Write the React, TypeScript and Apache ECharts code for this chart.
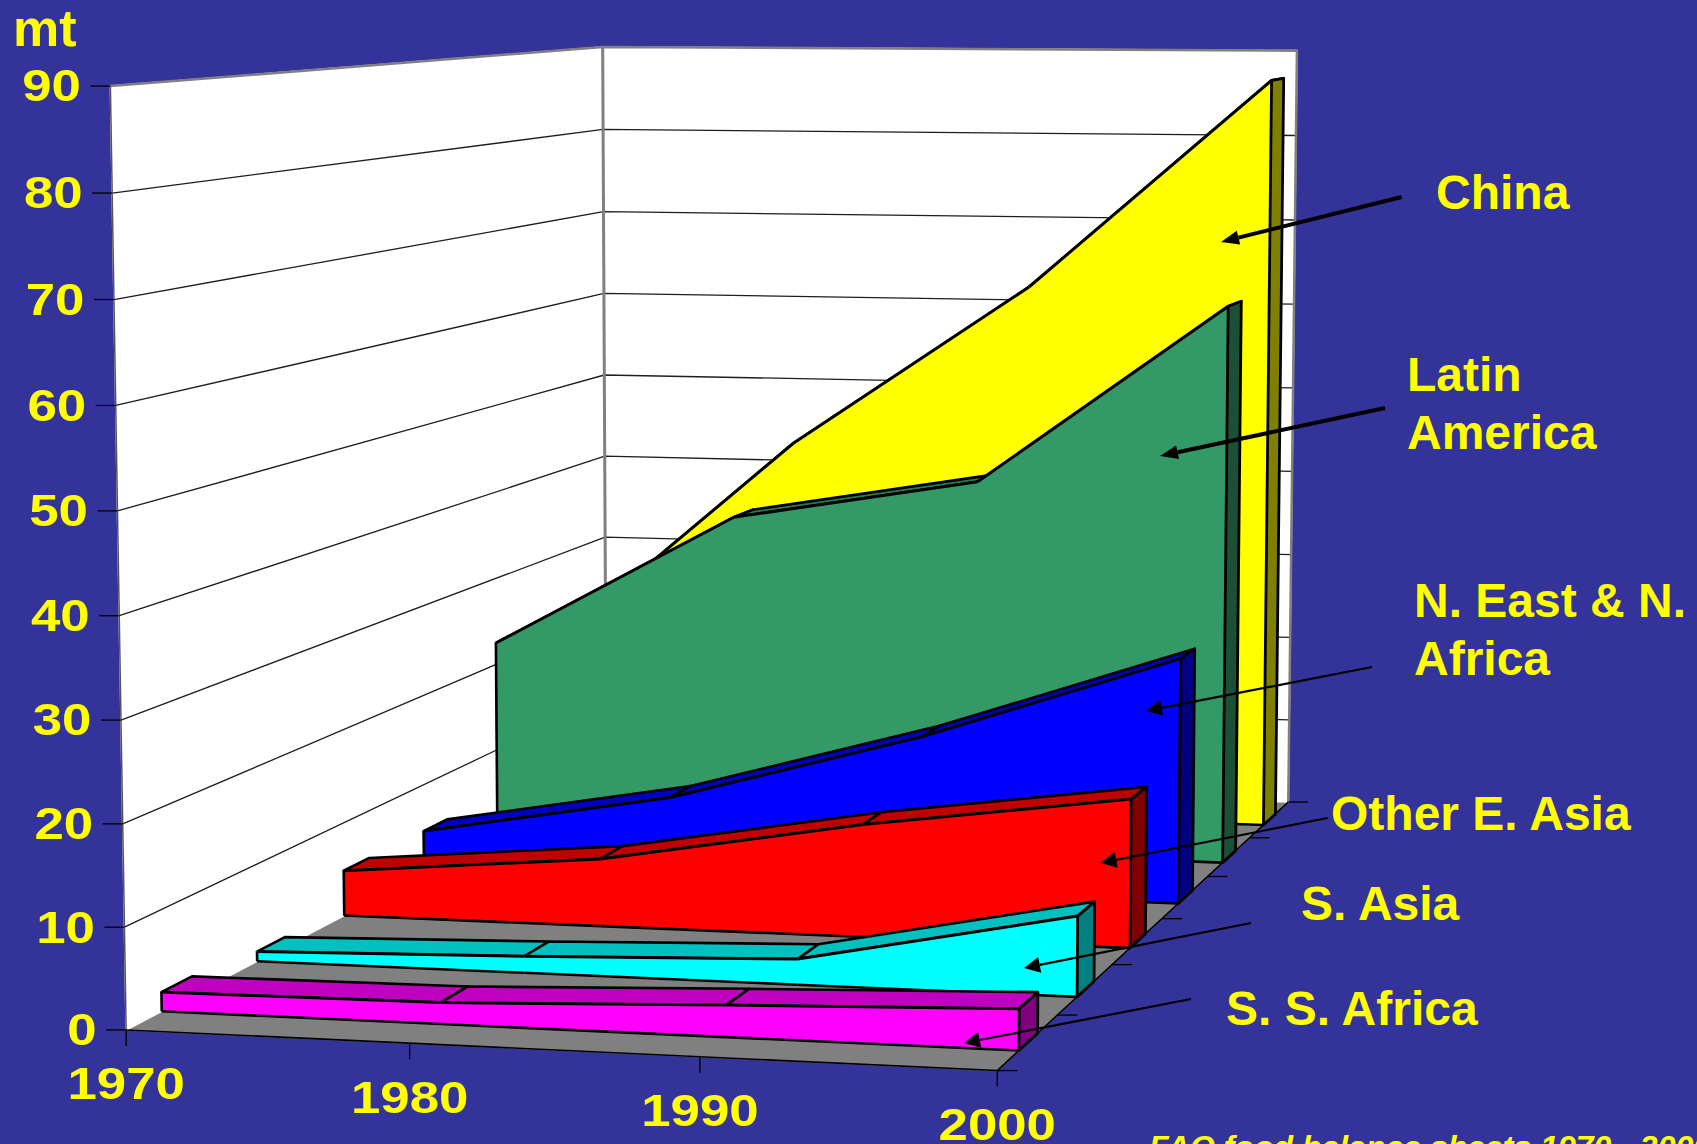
import React, { useEffect, useRef } from "react";
import * as echarts from "echarts";

const WIDTH = 1697;
const HEIGHT = 1144;

const years = [1970, 1980, 1990, 2000];
const valueTicks = [0, 10, 20, 30, 40, 50, 60, 70, 80, 90];

const ssAfrica = [1.9, 2.1, 3.1, 4.0];
const sAsia = [1.0, 1.7, 2.6, 8.1];
const otherEAsia = [4.85, 7.2, 11.9, 15.6];
const nEastNAfrica = [4.8, 9.6, 17.3, 26.7];
const latinAmerica = [22.5, 37.8, 42.5, 62.75];
const china = [20, 43.8, 62.75, 87];

const ribbons = [
  { name: "China", values: china, front: "#FFFF00", top: "#C0C000", side: "#808000" },
  { name: "Latin America", values: latinAmerica, front: "#339966", top: "#277A52", side: "#1C5036" },
  { name: "N. East & N. Africa", values: nEastNAfrica, front: "#0000FF", top: "#0000C0", side: "#000080" },
  { name: "Other E. Asia", values: otherEAsia, front: "#FF0000", top: "#C00000", side: "#800000" },
  { name: "S. Asia", values: sAsia, front: "#00FFFF", top: "#00C0C0", side: "#008080" },
  { name: "S. S. Africa", values: ssAfrica, front: "#FF00FF", top: "#C000C0", side: "#800080" },
];
const SLOTS = ribbons.length;
const GAP_FRONT = 0.35;
const GAP_BACK = 0.66;

// Chart box corners on the picture: (t, v, d) -> pixel
const corners: [number, number, number, number, number][] = [
  [0, 0, 0, 126.3, 1029.3],
  [0, 1, 0, 110, 86.3],
  [0, 0, 1, 606, 778.5],
  [0, 1, 1, 603.2, 46.7],
  [1, 0, 1, 1288.3, 801.7],
  [1, 1, 1, 1296.7, 50.7],
  [1, 0, 0, 997.5, 1071],
];

function solveProjection() {
  const rows: number[][] = [];
  const rhs: number[] = [];
  for (const [t, v, d, X, Y] of corners) {
    rows.push([1, t, v, d, 0, 0, 0, 0, -X * t, -X * v, -X * d]);
    rhs.push(X);
    rows.push([0, 0, 0, 0, 1, t, v, d, -Y * t, -Y * v, -Y * d]);
    rhs.push(Y);
  }
  const n = 11;
  const m: number[][] = [];
  for (let i = 0; i < n; i++) {
    const row = new Array(n + 1).fill(0);
    rows.forEach((r, k) => {
      for (let j = 0; j < n; j++) row[j] += r[i] * r[j];
      row[n] += r[i] * rhs[k];
    });
    m.push(row);
  }
  for (let c = 0; c < n; c++) {
    let best = c;
    for (let r = c + 1; r < n; r++) if (Math.abs(m[r][c]) > Math.abs(m[best][c])) best = r;
    [m[c], m[best]] = [m[best], m[c]];
    for (let r = 0; r < n; r++) {
      if (r === c) continue;
      const f = m[r][c] / m[c][c];
      for (let j = c; j <= n; j++) m[r][j] -= f * m[c][j];
    }
  }
  return m.map((r, i) => r[n] / r[i]);
}
const P = solveProjection();
function project(t: number, v: number, d: number): number[] {
  const w = 1 + P[8] * t + P[9] * v + P[10] * d;
  return [
    (P[0] + P[1] * t + P[2] * v + P[3] * d) / w,
    (P[4] + P[5] * t + P[6] * v + P[7] * d) / w,
  ];
}

// the hidden cartesian axes fill the page, so their scale gives (t, v)
function at(api: any, year: number, value: number, d: number) {
  const c = api.coord([year, value]);
  return project(c[0] / WIDTH, 1 - c[1] / HEIGHT, d);
}

const poly = (points: number[][], fill: string, stroke?: string, lineWidth = 2, z2 = 0) => ({
  type: "polygon",
  z2,
  shape: { points },
  style: { fill, stroke: stroke || fill, lineWidth: stroke ? lineWidth : 1.6, lineJoin: "round" },
});
const line = (points: number[][], stroke: string, lineWidth: number, z2 = 0) => ({
  type: "polyline",
  z2,
  shape: { points },
  style: { fill: "none", stroke, lineWidth, lineJoin: "round" },
});
const tickFont = {
  fontFamily: "Liberation Sans",
  fontWeight: "bold",
  fontSize: 44,
  fill: "#FFFF00",
};
const TICK_STRETCH = 1.2;

function renderScene(_p: any, api: any) {
  const [y0, y1] = [years[0], years[years.length - 1]];
  const vMax = valueTicks[valueTicks.length - 1];
  const a = at(api, y0, 0, 0), b = at(api, y0, vMax, 0);
  const f = at(api, y0, 0, 1), g = at(api, y0, vMax, 1);
  const e = at(api, y1, 0, 1), h = at(api, y1, vMax, 1);
  const dd = at(api, y1, 0, 0);
  const kids: any[] = [];
  kids.push(poly([a, dd, e, f], "#808080"));
  kids.push(poly([a, b, g, f], "#FFFFFF"));
  kids.push(poly([f, g, h, e], "#FFFFFF"));
  valueTicks.slice(1, -1).forEach((v) => {
    kids.push(line([at(api, y0, v, 0), at(api, y0, v, 1), at(api, y1, v, 1)], "#1E1E1E", 1.3));
  });
  kids.push(line([b, g, h, e], "#808080", 2.5));
  kids.push(line([g, f], "#808080", 3));
  kids.push(line([b, a], "#555555", 1.5));
  kids.push(line([a, dd, e], "#000000", 1.6));
  valueTicks.forEach((v) => {
    const p = at(api, y0, v, 0);
    kids.push(line([p, [p[0] - 20, p[1]]], "#000000", 1.3));
    kids.push({
      type: "text",
      style: { ...tickFont, text: String(v), align: "right", verticalAlign: "middle" },
      x: p[0] - 29.5,
      y: p[1],
      scaleX: TICK_STRETCH,
    });
  });
  years.forEach((yr) => {
    const p = at(api, yr, 0, 0);
    kids.push(line([p, [p[0], p[1] + 16]], "#000000", 1.3));
    kids.push({
      type: "text",
      style: { ...tickFont, text: String(yr), align: "center", verticalAlign: "middle" },
      x: p[0],
      y: p[1] + 54,
      scaleX: TICK_STRETCH,
    });
  });
  for (let k = 0; k <= SLOTS; k++) {
    const p = at(api, y1, 0, k / SLOTS);
    kids.push(line([p, [p[0] + 20, p[1]]], "#000000", 1.3));
  }
  return { type: "group", children: kids };
}

function ribbonRenderer(index: number) {
  const rb = ribbons[index];
  const slot = SLOTS - 1 - index;
  const dF = (slot + GAP_FRONT) / SLOTS;
  const dB = (slot + GAP_BACK) / SLOTS;
  return (params: any, api: any) => {
    const i = params.dataIndex;
    const yr = years[i];
    const val = rb.values[i];
    const kids: any[] = [];
    const ft = at(api, yr, val, dF);
    const fb = at(api, yr, 0, dF);
    const bt = at(api, yr, val, dB);
    const bb = at(api, yr, 0, dB);
    if (i < years.length - 1) {
      const yn = years[i + 1];
      const vn = rb.values[i + 1];
      const ft2 = at(api, yn, vn, dF);
      const fb2 = at(api, yn, 0, dF);
      const bt2 = at(api, yn, vn, dB);
      kids.push(poly([ft, ft2, bt2, bt], rb.top, "#000000", 2.6, 0));
      kids.push(poly([ft, ft2, fb2, fb], rb.front, undefined, 0, 1));
      kids.push(line([ft, ft2], "#000000", 3, 3));
      kids.push(line([fb, fb2], "#000000", 2.6, 3));
      if (i === 0) kids.push(line([ft, fb], "#000000", 2.6, 3));
    } else {
      kids.push(poly([ft, bt, bb, fb], rb.side, "#000000", 2.8, 2));
    }
    return { type: "group", children: kids };
  };
}

const notes = [
  { lines: ["China"], x: 1436, y: 192 },
  { lines: ["Latin", "America"], x: 1407, y: 374 },
  { lines: ["N. East & N.", "Africa"], x: 1414, y: 600 },
  { lines: ["Other E. Asia"], x: 1331, y: 813 },
  { lines: ["S. Asia"], x: 1301, y: 903 },
  { lines: ["S. S. Africa"], x: 1226, y: 1008 },
];
const arrows = [
  { from: [1401.6, 197], to: [1221, 242], width: 4 },
  { from: [1385, 408], to: [1160, 456], width: 4 },
  { from: [1372, 667], to: [1146, 711], width: 2.2 },
  { from: [1327.5, 818], to: [1100.5, 863], width: 2.2 },
  { from: [1251, 923], to: [1024, 968], width: 2.2 },
  { from: [1191, 999], to: [964, 1043], width: 2.2 },
];

function buildGraphic() {
  const els: any[] = [];
  arrows.forEach((ar) => {
    const dx = ar.from[0] - ar.to[0];
    const dy = ar.from[1] - ar.to[1];
    const len = Math.hypot(dx, dy);
    const ux = dx / len, uy = dy / len;
    const hl = ar.width > 3 ? 18 : 16;
    const hw = ar.width > 3 ? 7 : 8;
    const base = [ar.to[0] + ux * hl, ar.to[1] + uy * hl];
    els.push({
      type: "line",
      z: 50,
      shape: { x1: ar.from[0], y1: ar.from[1], x2: base[0], y2: base[1] },
      style: { stroke: "#000000", lineWidth: ar.width },
    });
    els.push({
      type: "polygon",
      z: 50,
      shape: {
        points: [
          ar.to,
          [base[0] - uy * hw, base[1] + ux * hw],
          [base[0] + uy * hw, base[1] - ux * hw],
        ],
      },
      style: { fill: "#000000" },
    });
  });
  notes.forEach((n) => {
    n.lines.forEach((txt, k) => {
      els.push({
        type: "text",
        z: 51,
        x: n.x,
        y: n.y + k * 58,
        style: {
          text: txt,
          fontFamily: "Liberation Sans",
          fontWeight: "bold",
          fontSize: 48,
          fill: "#FFFF00",
          align: "left",
          verticalAlign: "middle",
        },
      });
    });
  });
  els.push({
    type: "text",
    z: 51,
    x: 13,
    y: 28,
    style: {
      text: "mt",
      fontFamily: "Liberation Sans",
      fontWeight: "bold",
      fontSize: 52,
      fill: "#FFFF00",
      align: "left",
      verticalAlign: "middle",
    },
  });
  els.push({
    type: "text",
    z: 51,
    x: 1149,
    y: 1147,
    style: {
      text: "FAO food balance sheets 1970 - 2000",
      fontFamily: "Liberation Sans",
      fontWeight: "bold",
      fontStyle: "italic",
      fontSize: 32,
      fill: "#FFFF00",
      align: "left",
      verticalAlign: "middle",
    },
  });
  return els;
}

export default function App() {
  const ref = useRef<HTMLDivElement>(null);
  useEffect(() => {
    document.body.style.margin = "0";
    document.body.style.overflow = "hidden";
    const chart = echarts.init(ref.current!, undefined, { renderer: "svg" });
    chart.setOption({
      animation: false,
      backgroundColor: "#333399",
      grid: { left: 0, right: 0, top: 0, bottom: 0 },
      xAxis: { type: "value", min: years[0], max: years[years.length - 1], show: false },
      yAxis: { type: "value", min: 0, max: valueTicks[valueTicks.length - 1], show: false },
      series: [
        {
          type: "custom",
          name: "box",
          silent: true,
          data: [[years[0], 0]],
          renderItem: renderScene,
          z: 1,
        },
        ...ribbons.map((rb, idx) => ({
          type: "custom",
          name: rb.name,
          silent: true,
          data: years.map((y, i) => [y, rb.values[i]]),
          renderItem: ribbonRenderer(idx),
          z: 2 + idx,
        })),
      ],
      graphic: buildGraphic(),
    });
    return () => chart.dispose();
  }, []);
  return <div ref={ref} style={{ position: "absolute", left: 0, top: 0, width: WIDTH, height: HEIGHT }} />;
}
